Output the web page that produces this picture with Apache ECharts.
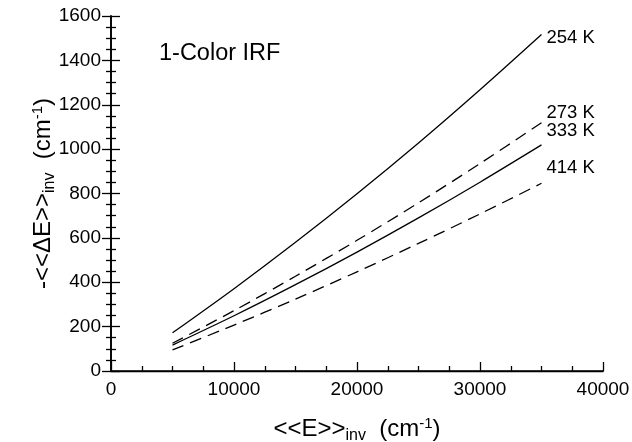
<!DOCTYPE html>
<html>
<head>
<meta charset="utf-8">
<script src="https://cdn.jsdelivr.net/npm/echarts@6/dist/echarts.min.js"></script>
<style>
  html, body { margin: 0; padding: 0; background: #fff; }
  #chart { width: 632px; height: 442px; }
</style>
</head>
<body>
<div id="chart"></div>
<script>
// Energy grid (cm^-1) shared by all curves
const energies = [5000, 10000, 15000, 20000, 25000, 30000, 35000];

// -<<ΔE>>inv (cm^-1) at each temperature
const curve254K = [172, 371, 580, 799, 1028, 1268, 1517];
const curve273K = [125, 272, 427, 589, 758, 935, 1119];
const curve333K = [117, 249, 389, 536, 690, 851, 1019];
const curve414K = [95, 207, 324, 447, 575, 708, 846];

const seriesNames = ['254 K', '273 K', '333 K', '414 K'];
const seriesData = [curve254K, curve273K, curve333K, curve414K];
const seriesDashed = [false, true, false, true];
const labelShiftY = [3, -10, -14, -15];

const xTicks = [0, 10000, 20000, 30000, 40000];
const yTicks = [0, 200, 400, 600, 800, 1000, 1200, 1400, 1600];

const FONT = 'Liberation Sans, Arial, Helvetica, sans-serif';

const chart = echarts.init(document.getElementById('chart'), null, { renderer: 'canvas' });

const titleRich = {
  t: { fontSize: 24, fontFamily: FONT, color: '#000', lineHeight: 28 },
  s: { fontSize: 16, fontFamily: FONT, color: '#000', padding: [13, 0, 0, 0] },
  p: { fontSize: 15, fontFamily: FONT, color: '#000', padding: [0, 0, 11, 0] }
};

const tickStyle = { color: '#000', width: 1.3 };

// ticks drawn toward the plot interior
const majorTick = { show: true, inside: true, length: 9, lineStyle: tickStyle };
const minorTick = { show: true, splitNumber: 4, length: 5, lineStyle: tickStyle };

const series = seriesNames.map((name, i) => ({
  name: name,
  type: 'line',
  xAxisIndex: 0,
  yAxisIndex: 0,
  data: energies.map((e, k) => [e, seriesData[i][k]]),
  smooth: 0.3,
  showSymbol: false,
  symbol: 'none',
  lineStyle: {
    color: '#000',
    width: 1.3,
    type: seriesDashed[i] ? [12, 7] : 'solid'
  },
  endLabel: {
    show: true,
    formatter: name,
    fontSize: 18.5,
    fontFamily: FONT,
    color: '#000',
    distance: 5,
    offset: [0, labelShiftY[i]]
  },
  animation: false
}));

chart.setOption({
  backgroundColor: '#fff',
  animation: false,
  grid: { left: 111, right: 29, top: 16, bottom: 71, containLabel: false, outerBoundsMode: 'none' },
  xAxis: [
    {
      type: 'value',
      min: 0,
      max: 40000,
      interval: 10000,
      position: 'bottom',
      name: '{t|<<E>>}{s|inv}{t|  (cm}{p|-1}{t|)}',
      nameLocation: 'middle',
      nameGap: 44,
      nameMoveOverlap: false,
      nameTextStyle: { rich: titleRich },
      axisLine: { show: true, lineStyle: { color: '#000', width: 1.6 } },
      axisTick: majorTick,
      minorTick: minorTick,
      axisLabel: {
        fontSize: 19, fontFamily: FONT, color: '#000', margin: 9,
        formatter: v => (xTicks.indexOf(v) >= 0 ? String(v) : '')
      },
      splitLine: { show: false }
    },
    {
      type: 'value',
      min: 0,
      max: 40000,
      interval: 10000,
      position: 'top',
      axisLine: { show: true, lineStyle: { color: '#000', width: 1.3 } },
      axisTick: { show: false },
      axisLabel: { show: false },
      splitLine: { show: false }
    }
  ],
  yAxis: [
    {
      type: 'value',
      min: 0,
      max: 1600,
      interval: 200,
      position: 'left',
      name: '{t|-<<ΔE>>}{s|inv}{t|  (cm}{p|-1}{t|)}',
      nameLocation: 'middle',
      nameGap: 53,
      nameRotate: 90,
      nameMoveOverlap: false,
      nameTextStyle: { rich: titleRich },
      axisLine: { show: true, lineStyle: { color: '#000', width: 1.6 } },
      axisTick: majorTick,
      minorTick: minorTick,
      axisLabel: {
        fontSize: 19, fontFamily: FONT, color: '#000', margin: 10,
        formatter: v => (yTicks.indexOf(v) >= 0 ? String(v) : '')
      },
      splitLine: { show: false }
    },
    {
      type: 'value',
      min: 0,
      max: 1600,
      interval: 200,
      position: 'right',
      axisLine: { show: true, lineStyle: { color: '#000', width: 1.6 } },
      axisTick: majorTick,
      minorTick: minorTick,
      axisLabel: { show: false },
      splitLine: { show: false }
    }
  ],
  graphic: [
    {
      type: 'text',
      left: 159,
      top: 42,
      style: { text: '1-Color IRF', fontSize: 23.5, fontFamily: FONT, fill: '#000' }
    }
  ],
  series: series
});
</script>
</body>
</html>
